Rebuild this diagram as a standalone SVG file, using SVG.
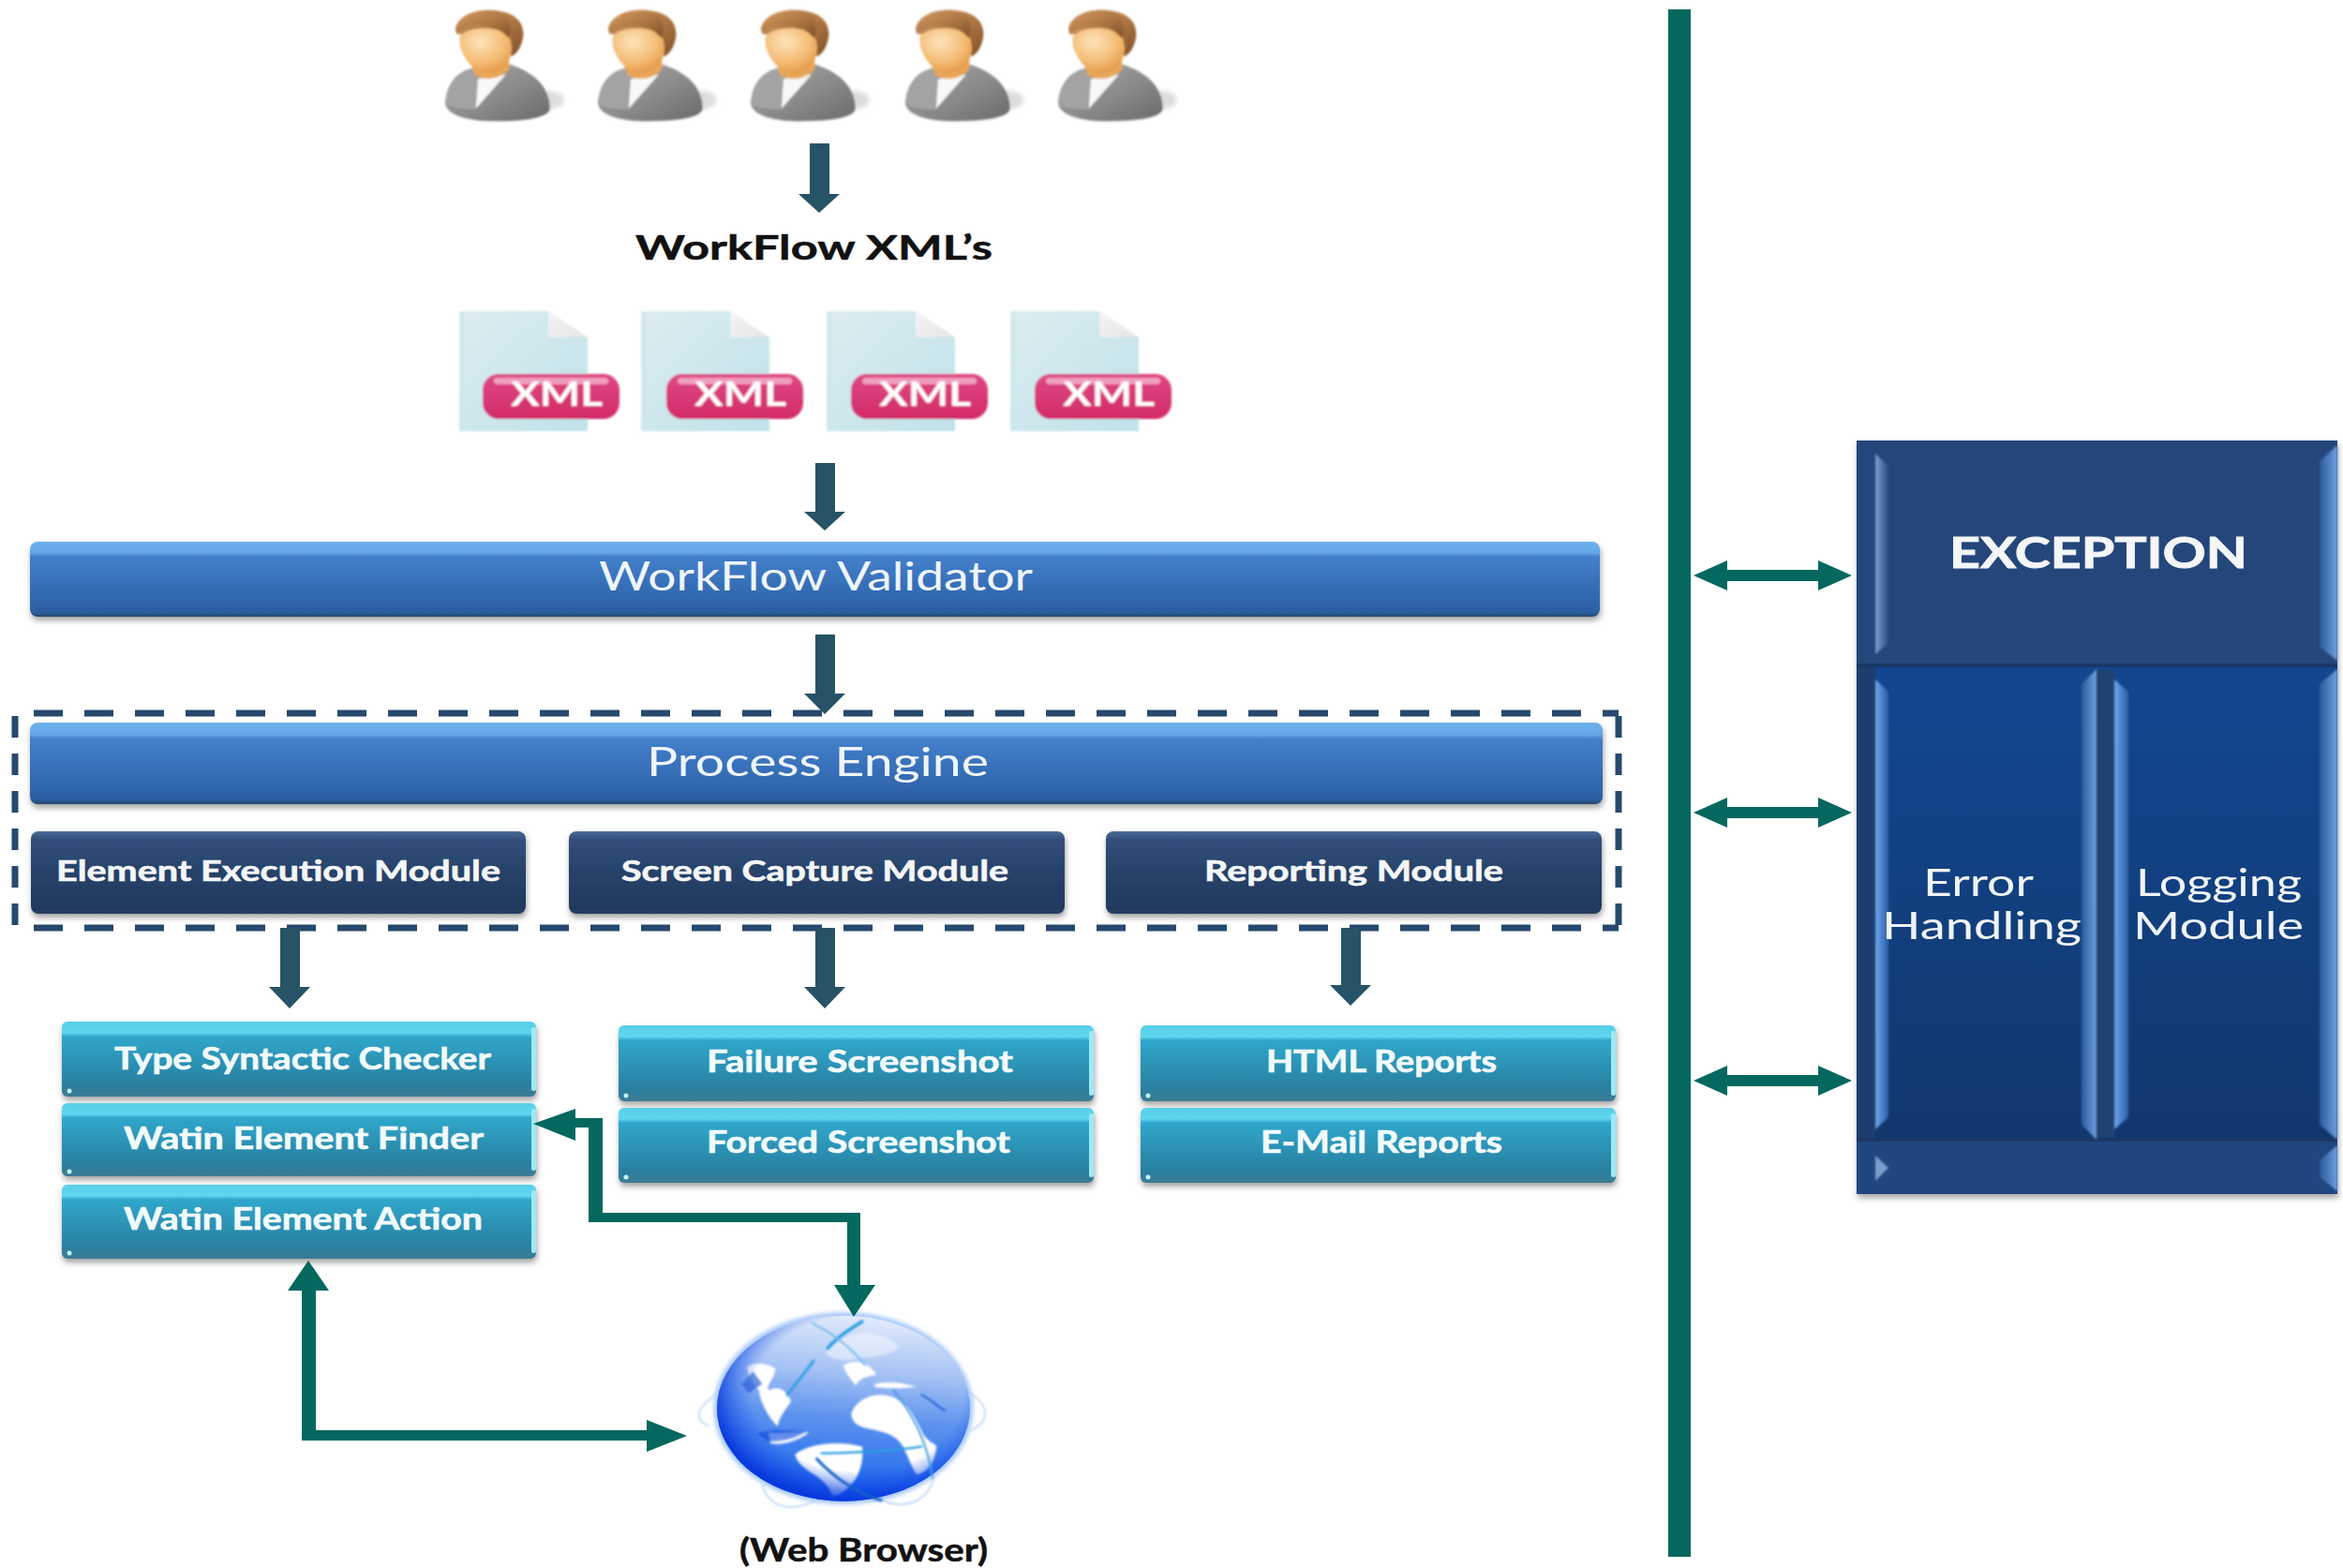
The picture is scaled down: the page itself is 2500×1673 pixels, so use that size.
<svg xmlns="http://www.w3.org/2000/svg" xmlns:xlink="http://www.w3.org/1999/xlink" width="2500" height="1673" viewBox="0 0 2500 1673">
<style>
text{font-family:"Lato","Liberation Sans",sans-serif;}
.wb{fill:#111;font-weight:700;stroke:#111;stroke-width:.5;}
.bar{fill:#eef5fb;font-size:42px;font-weight:400;}
.mod{fill:#f4f6f8;font-size:31px;font-weight:700;stroke:#f4f6f8;stroke-width:.6;}
.tl{fill:#f2fbfd;font-size:32px;font-weight:700;stroke:#f2fbfd;stroke-width:.6;}
.ex{fill:#f0f4f8;font-size:40px;font-weight:400;}
.xml{fill:#fff;font-size:36px;font-weight:700;}
.dn{fill:#265365;}
.gr{fill:#04685f;}
.dash{stroke:#27496d;stroke-width:7;fill:none;}
.hl{fill:#9fe9f5;}
.dot{fill:#c4f3f8;}
</style>
<defs>
<filter id="sh" x="-5%" y="-20%" width="110%" height="140%"><feDropShadow dx="1" dy="4" stdDeviation="3" flood-color="#555" flood-opacity=".55"/></filter>
<filter id="soft" x="-20%" y="-20%" width="140%" height="140%"><feGaussianBlur stdDeviation="1.2"/></filter>
<filter id="soft2" x="-50%" y="-50%" width="200%" height="200%"><feGaussianBlur stdDeviation="7"/></filter>
<filter id="soft3" x="-20%" y="-20%" width="140%" height="140%"><feGaussianBlur stdDeviation="3"/></filter>
<filter id="soft4" x="-30%" y="-5%" width="160%" height="110%"><feGaussianBlur stdDeviation="1"/></filter>
<linearGradient id="gBlue" x1="0" y1="0" x2="0" y2="1">
<stop offset="0" stop-color="#6cb2ee"/><stop offset=".15" stop-color="#63a6e4"/><stop offset=".2" stop-color="#437fcb"/><stop offset=".8" stop-color="#2f66ac"/><stop offset=".94" stop-color="#2c5f9f"/><stop offset="1" stop-color="#27476f"/></linearGradient>
<linearGradient id="gDark" x1="0" y1="0" x2="0" y2="1">
<stop offset="0" stop-color="#4a6c97"/><stop offset=".1" stop-color="#334f7b"/><stop offset=".5" stop-color="#264269"/><stop offset=".93" stop-color="#22395f"/><stop offset="1" stop-color="#2a4064"/></linearGradient>
<linearGradient id="gTeal" x1="0" y1="0" x2="0" y2="1">
<stop offset="0" stop-color="#58cfe8"/><stop offset=".15" stop-color="#5fd6ee"/><stop offset=".2" stop-color="#2ea7cb"/><stop offset=".85" stop-color="#2b7f9f"/><stop offset="1" stop-color="#3c7c93"/></linearGradient>
<linearGradient id="gCol" x1="0" y1="0" x2="0" y2="1"><stop offset="0" stop-color="#12478f"/><stop offset="1" stop-color="#11376d"/></linearGradient>
<linearGradient id="gBevL" x1="0" y1="0" x2="1" y2="0"><stop offset="0" stop-color="#6fa6ea"/><stop offset="1" stop-color="#2a5ea6"/></linearGradient>
<linearGradient id="gBevH" x1="0" y1="0" x2="1" y2="0"><stop offset="0" stop-color="#7aa0d0"/><stop offset="1" stop-color="#2a4d82"/></linearGradient>
<linearGradient id="gBevR" x1="0" y1="0" x2="1" y2="0"><stop offset="0" stop-color="#2c5a9a"/><stop offset="1" stop-color="#6e9fe0"/></linearGradient>
<linearGradient id="gDoc" x1="0" y1="0" x2="1" y2="1"><stop offset="0" stop-color="#dcedf0"/><stop offset="1" stop-color="#bfe1e9"/></linearGradient>
<linearGradient id="gFold" x1="0" y1="0" x2="1" y2="1"><stop offset="0" stop-color="#f5f5f5"/><stop offset="1" stop-color="#e4e4e4"/></linearGradient>
<linearGradient id="gPink" x1="0" y1="0" x2="0" y2="1"><stop offset="0" stop-color="#de4a85"/><stop offset="1" stop-color="#d22a68"/></linearGradient>
<linearGradient id="gBody" x1="0" y1="0" x2="1" y2="1"><stop offset="0" stop-color="#a8a8a8"/><stop offset=".55" stop-color="#8a8a8a"/><stop offset="1" stop-color="#696969"/></linearGradient>
<linearGradient id="gHair" x1="0" y1="0" x2="1" y2="1"><stop offset="0" stop-color="#d39a62"/><stop offset=".6" stop-color="#a8713f"/><stop offset="1" stop-color="#7e5128"/></linearGradient>
<radialGradient id="gFace" cx=".4" cy=".3" r=".8"><stop offset="0" stop-color="#fde4bb"/><stop offset=".6" stop-color="#f4ba72"/><stop offset="1" stop-color="#df9140"/></radialGradient>
<linearGradient id="gGlobeA" x1=".55" y1="0" x2=".45" y2="1"><stop offset="0" stop-color="#e2ebfb"/><stop offset=".3" stop-color="#a5c2f4"/><stop offset=".55" stop-color="#5d93ee"/><stop offset=".8" stop-color="#3376ee"/><stop offset="1" stop-color="#0a46e6"/></linearGradient>
<radialGradient id="gGlobeB" cx=".56" cy=".42" r=".58"><stop offset="0" stop-color="#1c5cec" stop-opacity="0"/><stop offset=".72" stop-color="#1c5cec" stop-opacity="0"/><stop offset="1" stop-color="#0838dc" stop-opacity=".95"/></radialGradient>
<g id="person">
<ellipse cx="370" cy="320" rx="55" ry="30" fill="#ddd" filter="url(#soft2)"/>
<path d="M45,330 C50,265 85,228 135,218 L245,205 C320,225 382,275 380,350 C370,378 300,388 205,388 C120,388 50,370 45,330 Z" fill="url(#gBody)"/>
<path d="M45,330 C50,265 85,228 135,218 L150,250 L140,350 C95,350 60,345 45,330 Z" fill="#a3a3a3"/>
<path d="M150,252 L240,238 L143,348 Z" fill="#f8f8f8"/>
<path d="M128,205 L250,175 L250,222 C215,258 170,258 140,240 Z" fill="#e9a658"/>
<path d="M78,95 C82,55 130,30 190,32 C262,35 298,65 295,115 C290,150 275,172 258,180 L215,120 L90,110 Z" fill="url(#gHair)"/>
<path d="M92,118 C110,85 210,80 248,112 C265,150 262,190 225,222 C190,245 145,232 118,198 C98,172 88,145 92,118 Z" fill="url(#gFace)"/>
<path d="M78,95 C82,60 130,34 190,36 C235,38 268,65 248,122 C225,92 180,76 125,84 C105,88 90,100 83,112 Z" fill="url(#gHair)"/>
</g>
<g id="doc">
<path d="M0,0 H95 L137,28 V128 H0 Z" fill="url(#gDoc)"/>
<path d="M1,1 H5 V127 H1 Z" fill="#cfe6ea"/>
<path d="M95,0 L137,28 H95 Z" fill="url(#gFold)"/>
</g>
<g id="badge">
<rect x="0" y="0" width="146" height="48" rx="17" fill="url(#gPink)"/>
<rect x="12" y="4" width="122" height="7" rx="3.5" fill="#f19dbf"/>
<text class="xml" x="30" y="34" textLength="98" lengthAdjust="spacingAndGlyphs">XML</text>
</g>
</defs>
<rect width="2500" height="1673" fill="#fff"/>

<g id="users" filter="url(#soft)">
<use xlink:href="#person" href="#person" transform="translate(460,0) scale(.3333)"/>
<use xlink:href="#person" href="#person" transform="translate(623,0) scale(.3333)"/>
<use xlink:href="#person" href="#person" transform="translate(786,0) scale(.3333)"/>
<use xlink:href="#person" href="#person" transform="translate(951,0) scale(.3333)"/>
<use xlink:href="#person" href="#person" transform="translate(1114,0) scale(.3333)"/>
</g>

<g id="workflow-xmls-label"><text class="wb" x="678" y="277" font-size="37" textLength="381" lengthAdjust="spacingAndGlyphs">WorkFlow XML’s</text></g>

<g id="xml-files" filter="url(#soft)">
<use xlink:href="#doc" href="#doc" x="490" y="332"/><use xlink:href="#badge" href="#badge" x="515" y="399"/>
<use xlink:href="#doc" href="#doc" x="684" y="332"/><use xlink:href="#badge" href="#badge" x="711" y="399"/>
<use xlink:href="#doc" href="#doc" x="882" y="332"/><use xlink:href="#badge" href="#badge" x="908" y="399"/>
<use xlink:href="#doc" href="#doc" x="1078" y="332"/><use xlink:href="#badge" href="#badge" x="1104" y="399"/>
</g>

<g id="workflow-validator">
<rect x="32" y="578" width="1675" height="80" rx="8" fill="url(#gBlue)" filter="url(#sh)"/>
<text class="bar" x="639" y="630" textLength="463" lengthAdjust="spacingAndGlyphs">WorkFlow Validator</text>
</g>

<g id="process-boundary">
<path class="dash" d="M36,761 H1727" stroke-dasharray="31 23"/>
<path class="dash" d="M36,990 H1727" stroke-dasharray="31 23"/>
<path class="dash" d="M16,764 V987" stroke-dasharray="23 17"/>
<path class="dash" d="M1727,764 V987" stroke-dasharray="23 17"/>
</g>

<g id="process-engine">
<rect x="32" y="771" width="1678" height="87" rx="8" fill="url(#gBlue)" filter="url(#sh)"/>
<text class="bar" x="690" y="828" textLength="365" lengthAdjust="spacingAndGlyphs">Process Engine</text>
</g>

<g id="element-execution-module">
<rect x="33" y="887" width="528" height="88" rx="8" fill="url(#gDark)" filter="url(#sh)"/>
<text class="mod" x="60" y="940" textLength="474" lengthAdjust="spacingAndGlyphs">Element Execution Module</text>
</g>
<g id="screen-capture-module">
<rect x="607" y="887" width="529" height="88" rx="8" fill="url(#gDark)" filter="url(#sh)"/>
<text class="mod" x="663" y="940" textLength="413" lengthAdjust="spacingAndGlyphs">Screen Capture Module</text>
</g>
<g id="reporting-module">
<rect x="1180" y="887" width="529" height="88" rx="8" fill="url(#gDark)" filter="url(#sh)"/>
<text class="mod" x="1285" y="940" textLength="319" lengthAdjust="spacingAndGlyphs">Reporting Module</text>
</g>

<g id="type-syntactic-checker">
<rect x="66" y="1090" width="506" height="80" rx="6" fill="url(#gTeal)" filter="url(#sh)"/><rect class="hl" x="567" y="1096" width="5" height="68" rx="2"/><circle class="dot" cx="74" cy="1164" r="2.5"/>
<text class="tl" x="122" y="1141" textLength="402" lengthAdjust="spacingAndGlyphs">Type Syntactic Checker</text>
</g>
<g id="watin-element-finder">
<rect x="66" y="1177" width="506" height="78" rx="6" fill="url(#gTeal)" filter="url(#sh)"/><rect class="hl" x="567" y="1183" width="5" height="66" rx="2"/><circle class="dot" cx="74" cy="1250" r="2.5"/>
<text class="tl" x="132" y="1226" textLength="384" lengthAdjust="spacingAndGlyphs">Watin Element Finder</text>
</g>
<g id="watin-element-action">
<rect x="66" y="1264" width="506" height="79" rx="6" fill="url(#gTeal)" filter="url(#sh)"/><rect class="hl" x="567" y="1270" width="5" height="67" rx="2"/><circle class="dot" cx="74" cy="1337" r="2.5"/>
<text class="tl" x="132" y="1312" textLength="383" lengthAdjust="spacingAndGlyphs">Watin Element Action</text>
</g>
<g id="failure-screenshot">
<rect x="660" y="1094" width="507" height="81" rx="6" fill="url(#gTeal)" filter="url(#sh)"/><rect class="hl" x="1162" y="1100" width="5" height="69" rx="2"/><circle class="dot" cx="668" cy="1169" r="2.5"/>
<text class="tl" x="754" y="1144" textLength="327" lengthAdjust="spacingAndGlyphs">Failure Screenshot</text>
</g>
<g id="forced-screenshot">
<rect x="660" y="1182" width="507" height="80" rx="6" fill="url(#gTeal)" filter="url(#sh)"/><rect class="hl" x="1162" y="1188" width="5" height="68" rx="2"/><circle class="dot" cx="668" cy="1256" r="2.5"/>
<text class="tl" x="754" y="1230" textLength="324" lengthAdjust="spacingAndGlyphs">Forced Screenshot</text>
</g>
<g id="html-reports">
<rect x="1217" y="1094" width="507" height="81" rx="6" fill="url(#gTeal)" filter="url(#sh)"/><rect class="hl" x="1719" y="1100" width="5" height="69" rx="2"/><circle class="dot" cx="1225" cy="1169" r="2.5"/>
<text class="tl" x="1351" y="1144" textLength="246" lengthAdjust="spacingAndGlyphs">HTML Reports</text>
</g>
<g id="email-reports">
<rect x="1217" y="1182" width="507" height="80" rx="6" fill="url(#gTeal)" filter="url(#sh)"/><rect class="hl" x="1719" y="1188" width="5" height="68" rx="2"/><circle class="dot" cx="1225" cy="1256" r="2.5"/>
<text class="tl" x="1345" y="1230" textLength="258" lengthAdjust="spacingAndGlyphs">E-Mail Reports</text>
</g>

<g id="web-browser">
<g transform="translate(720,1380) scale(.3333)">
<g fill="none" stroke="#b9d4f6" stroke-width="5" filter="url(#soft3)">
<path d="M135,320 C80,360 50,400 110,425"/><path d="M945,320 C1010,360 1010,410 945,440"/>
<path d="M280,610 C300,700 400,700 470,650"/><path d="M640,650 C700,690 800,690 830,590"/>
</g>
<ellipse cx="540" cy="368" rx="416" ry="308" fill="#a8c9f8" filter="url(#soft2)"/>
<ellipse cx="540" cy="368" rx="405" ry="297" fill="url(#gGlobeA)"/>
<g fill="#fff" filter="url(#soft3)">
<path d="M565,385 C578,345 620,322 670,325 C725,330 760,375 790,440 C805,475 835,480 838,490 C835,530 815,570 775,580 C750,545 740,495 715,470 C690,445 650,440 610,430 C585,425 565,410 565,385 Z"/>
<path d="M385,515 C430,480 520,470 600,490 C605,530 595,570 575,600 C555,625 525,650 505,650 C490,605 460,590 430,570 C410,555 390,540 385,515 Z"/>
<path d="M230,235 C260,215 295,225 322,240 C322,270 290,295 300,310 C340,290 362,320 372,345 C350,380 332,400 330,425 C300,400 270,340 270,310 C250,290 240,270 230,235 Z"/>
<path d="M540,230 C580,205 625,225 645,260 C620,265 590,270 580,295 C560,270 545,255 540,230 Z"/>
<path d="M300,445 C340,450 390,440 430,445 C400,470 340,490 305,480 Z" opacity=".9"/>
<path d="M640,290 C680,280 730,285 775,300 C720,305 680,305 640,300 Z"/>
<path d="M480,190 C560,110 650,110 720,170 C680,210 600,200 560,215 C530,215 500,210 480,190 Z" opacity=".45"/>
</g>
<ellipse cx="540" cy="368" rx="405" ry="297" fill="url(#gGlobeB)"/>
<path d="M235,320 L215,290 L250,250 L280,290 Z" fill="#2a60d8" opacity=".7" filter="url(#soft3)"/>
<path d="M265,450 C300,430 350,440 420,440 C380,470 340,470 300,475 Z" fill="#0f4ae0" opacity=".6" filter="url(#soft3)"/>
<g fill="none" stroke="#2a9ee0" stroke-linecap="round" filter="url(#soft3)">
<path d="M600,90 C560,115 520,140 490,175" stroke-width="10"/>
<path d="M445,215 C420,250 385,290 360,325" stroke-width="8"/>
<path d="M455,530 C520,600 590,640 660,662" stroke-width="9" stroke="#1463c8"/>
<path d="M470,512 C570,510 700,505 790,490" stroke-width="7"/>
<path d="M440,95 C510,130 570,180 610,230" stroke-width="5" stroke="#6ab8ea"/>
<path d="M700,310 C760,380 810,480 825,590" stroke-width="6" stroke="#4aa0e0"/>
<path d="M790,325 C820,340 845,365 865,375" stroke-width="5" stroke="#1d5ed8"/>
</g>
</g>
<text class="wb" x="789" y="1666" font-size="34" textLength="265" lengthAdjust="spacingAndGlyphs">(Web Browser)</text>
</g>

<g id="exception-block">
<rect x="1981" y="470" width="513" height="804" fill="#24467a" filter="url(#sh)"/>
<rect x="1981" y="710" width="256" height="506" fill="url(#gCol)"/>
<rect x="2237" y="710" width="257" height="506" fill="url(#gCol)"/>
<rect x="1981" y="470" width="513" height="240" fill="#24467a"/>
<rect x="1981" y="1216" width="513" height="58" fill="#20467f"/>
<rect x="1981" y="710" width="20" height="506" fill="#1c3d6e"/>
<rect x="2237" y="714" width="19" height="502" fill="#1f4273"/>
<rect x="1981" y="708" width="513" height="4" fill="#1a3766"/>
<rect x="1981" y="1214" width="513" height="4" fill="#1a3766"/>
<g filter="url(#soft4)">
<path d="M2001,484 L2015,497 V686 L2001,698 Z" fill="url(#gBevH)"/>
<path d="M2494,475 V705 L2475,690 V492 Z" fill="url(#gBevR)"/>
<path d="M2001,725 L2015,738 V1192 L2001,1205 Z" fill="url(#gBevL)"/>
<path d="M2221,730 L2237,714 V1216 L2221,1200 Z" fill="url(#gBevR)"/>
<path d="M2256,725 L2271,738 V1192 L2256,1205 Z" fill="url(#gBevL)"/>
<path d="M2475,730 L2494,714 V1216 L2475,1200 Z" fill="url(#gBevR)"/>
<path d="M2001,1233 L2015,1246 L2001,1260 Z" fill="#7a9ecf"/>
<path d="M2475,1238 L2494,1222 V1271 L2475,1256 Z" fill="url(#gBevR)"/>
</g>
<text x="2080" y="606" fill="#f4f6f8" stroke="#f4f6f8" stroke-width=".9" font-size="45" font-weight="700" textLength="318" lengthAdjust="spacingAndGlyphs">EXCEPTION</text>
<text class="ex" x="2052" y="956" textLength="118" lengthAdjust="spacingAndGlyphs">Error</text>
<text class="ex" x="2008" y="1002" textLength="213" lengthAdjust="spacingAndGlyphs">Handling</text>
<text class="ex" x="2279" y="956" textLength="177" lengthAdjust="spacingAndGlyphs">Logging</text>
<text class="ex" x="2276" y="1002" textLength="182" lengthAdjust="spacingAndGlyphs">Module</text>
</g>

<g id="connectors">
<path class="dn" d="M864,153 H885 V207 H896 L874,227 L852,207 H864 Z"/>
<path class="dn" d="M870,494 H891 V546 H902 L880,566 L858,546 H870 Z"/>
<path class="dn" d="M870,677 H891 V740 H902 L880,762 L858,740 H870 Z"/>
<path class="dn" d="M299,990 H320 V1053 H331 L309,1076 L287,1053 H299 Z"/>
<path class="dn" d="M870,990 H891 V1053 H902 L880,1076 L858,1053 H870 Z"/>
<path class="dn" d="M1431,990 H1452 V1051 H1463 L1441,1073 L1419,1051 H1431 Z"/>
<path class="gr" d="M569,1199 L614,1183 V1193 H643 V1294 H918 V1371 H934 L911,1405 L890,1371 H904 V1304 H628 V1203 H614 V1217 Z"/>
<path class="gr" d="M329,1345 L351,1377 H337 V1526 H690 V1515 L733,1532 L690,1549 V1537 H322 V1377 H307 Z"/>
<rect class="gr" x="1780" y="10" width="24" height="1651"/>
<path class="gr" d="M1807,614 L1843,598 V608 H1940 V598 L1976,614 L1940,630 V620 H1843 V630 Z"/>
<path class="gr" d="M1807,867 L1843,851 V861 H1940 V851 L1976,867 L1940,883 V873 H1843 V883 Z"/>
<path class="gr" d="M1807,1153 L1843,1137 V1147 H1940 V1137 L1976,1153 L1940,1169 V1159 H1843 V1169 Z"/>
</g>
</svg>
